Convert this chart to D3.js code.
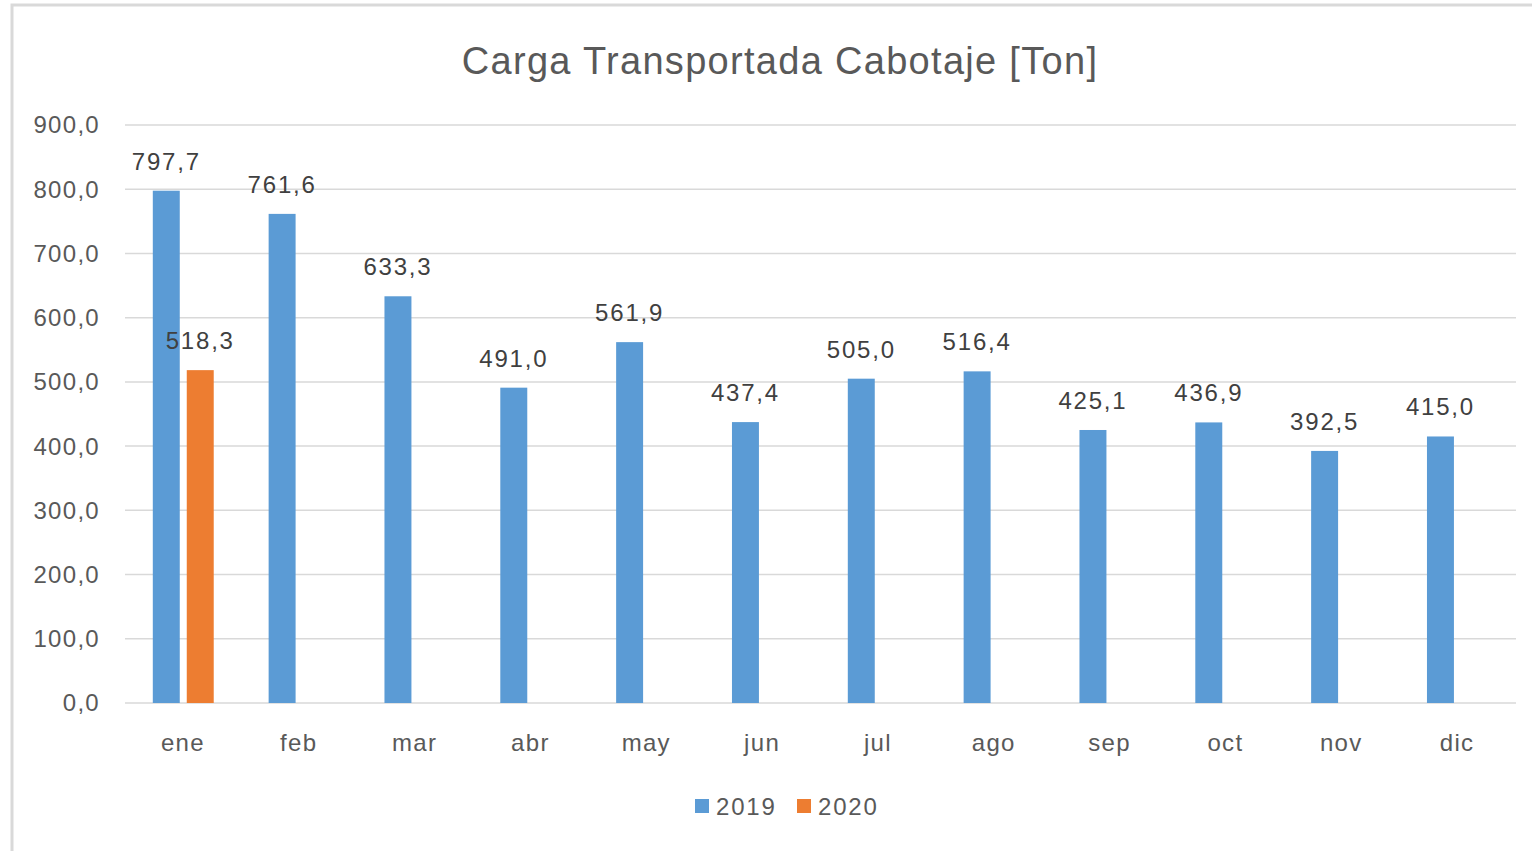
<!DOCTYPE html>
<html>
<head>
<meta charset="utf-8">
<script src="https://cdn.jsdelivr.net/npm/d3@7"></script>
<style>
  body { margin: 0; background: #fff; }
  text { font-family: "Liberation Sans", "DejaVu Sans", sans-serif; fill: #595959; }
</style>
</head>
<body>
<svg id="chart"></svg>
<script>
const months = ["ene", "feb", "mar", "abr", "may", "jun", "jul", "ago", "sep", "oct", "nov", "dic"];
const series = ["2019", "2020"];
const values2019 = [797.7, 761.6, 633.3, 491.0, 561.9, 437.4, 505.0, 516.4, 425.1, 436.9, 392.5, 415.0];
const values2020 = [518.3, null, null, null, null, null, null, null, null, null, null, null];
const yTicks = [0, 100, 200, 300, 400, 500, 600, 700, 800, 900];
const colors = ["#5b9bd5", "#ed7d31"];

const width = 1532;
const height = 851;
const fmt = v => d3.format(".1f")(v).replace(".", ",");

const svg = d3.select("#chart").attr("width", width).attr("height", height);

// chart frame
svg.append("rect")
  .attr("x", 12).attr("y", 5)
  .attr("width", width).attr("height", height)
  .attr("fill", "#fff")
  .attr("stroke", "#d9d9d9")
  .attr("stroke-width", 3);

svg.append("text")
  .attr("x", 780).attr("y", 74)
  .attr("text-anchor", "middle")
  .style("font-size", "38px")
  .style("letter-spacing", "1.3px")
  .text("Carga Transportada Cabotaje [Ton]");

const x0 = d3.scaleBand().domain(months).range([125, 1515]).padding(0);
const bw = x0.bandwidth();
const x1 = d3.scaleBand().domain(series).range([bw * 0.24, bw * 0.766]).paddingInner(0.206);
const y = d3.scaleLinear().domain([0, 900]).range([703, 125]);

// gridlines + y labels
const yAxis = svg.append("g");
yAxis.selectAll("line").data(yTicks).enter().append("line")
  .attr("x1", 125).attr("x2", 1516)
  .attr("y1", d => y(d)).attr("y2", d => y(d))
  .attr("stroke", "#d9d9d9").attr("stroke-width", 1.5);
yAxis.selectAll("text").data(yTicks).enter().append("text")
  .attr("x", 100).attr("y", d => y(d))
  .attr("dy", "0.35em")
  .attr("text-anchor", "end")
  .style("font-size", "24px")
  .style("letter-spacing", "1.3px")
  .text(d => fmt(d));

// x labels
svg.append("g").selectAll("text").data(months).enter().append("text")
  .attr("x", d => x0(d) + bw / 2)
  .attr("y", 751)
  .attr("text-anchor", "middle")
  .style("font-size", "24px")
  .style("letter-spacing", "1.3px")
  .text(d => d);

const rows = months.map((m, i) => ({ month: m, vals: [values2019[i], values2020[i]] }));

const groups = svg.append("g").selectAll("g").data(rows).enter().append("g")
  .attr("transform", d => `translate(${x0(d.month)},0)`);

const cells = groups.selectAll("g")
  .data(d => series.map((s, j) => ({ s, j, v: d.vals[j] })).filter(c => c.v != null))
  .enter().append("g");

cells.append("rect")
  .attr("x", d => x1(d.s))
  .attr("width", x1.bandwidth())
  .attr("y", d => y(d.v))
  .attr("height", d => y(0) - y(d.v))
  .attr("fill", d => colors[d.j]);

cells.append("text")
  .attr("x", d => x1(d.s) + x1.bandwidth() / 2)
  .attr("y", d => y(d.v) - 21)
  .attr("text-anchor", "middle")
  .style("font-size", "24px")
  .style("letter-spacing", "1.8px")
  .style("fill", "#404040")
  .text(d => fmt(d.v));

// legend
const legendX = [695, 797];
const legend = svg.append("g").selectAll("g").data(series).enter().append("g")
  .attr("transform", (d, i) => `translate(${legendX[i]},799)`);
legend.append("rect").attr("width", 14).attr("height", 14).attr("fill", (d, i) => colors[i]);
legend.append("text").attr("x", 21).attr("y", 16)
  .style("font-size", "24px")
  .style("letter-spacing", "1.8px")
  .text(d => d);
</script>
</body>
</html>
